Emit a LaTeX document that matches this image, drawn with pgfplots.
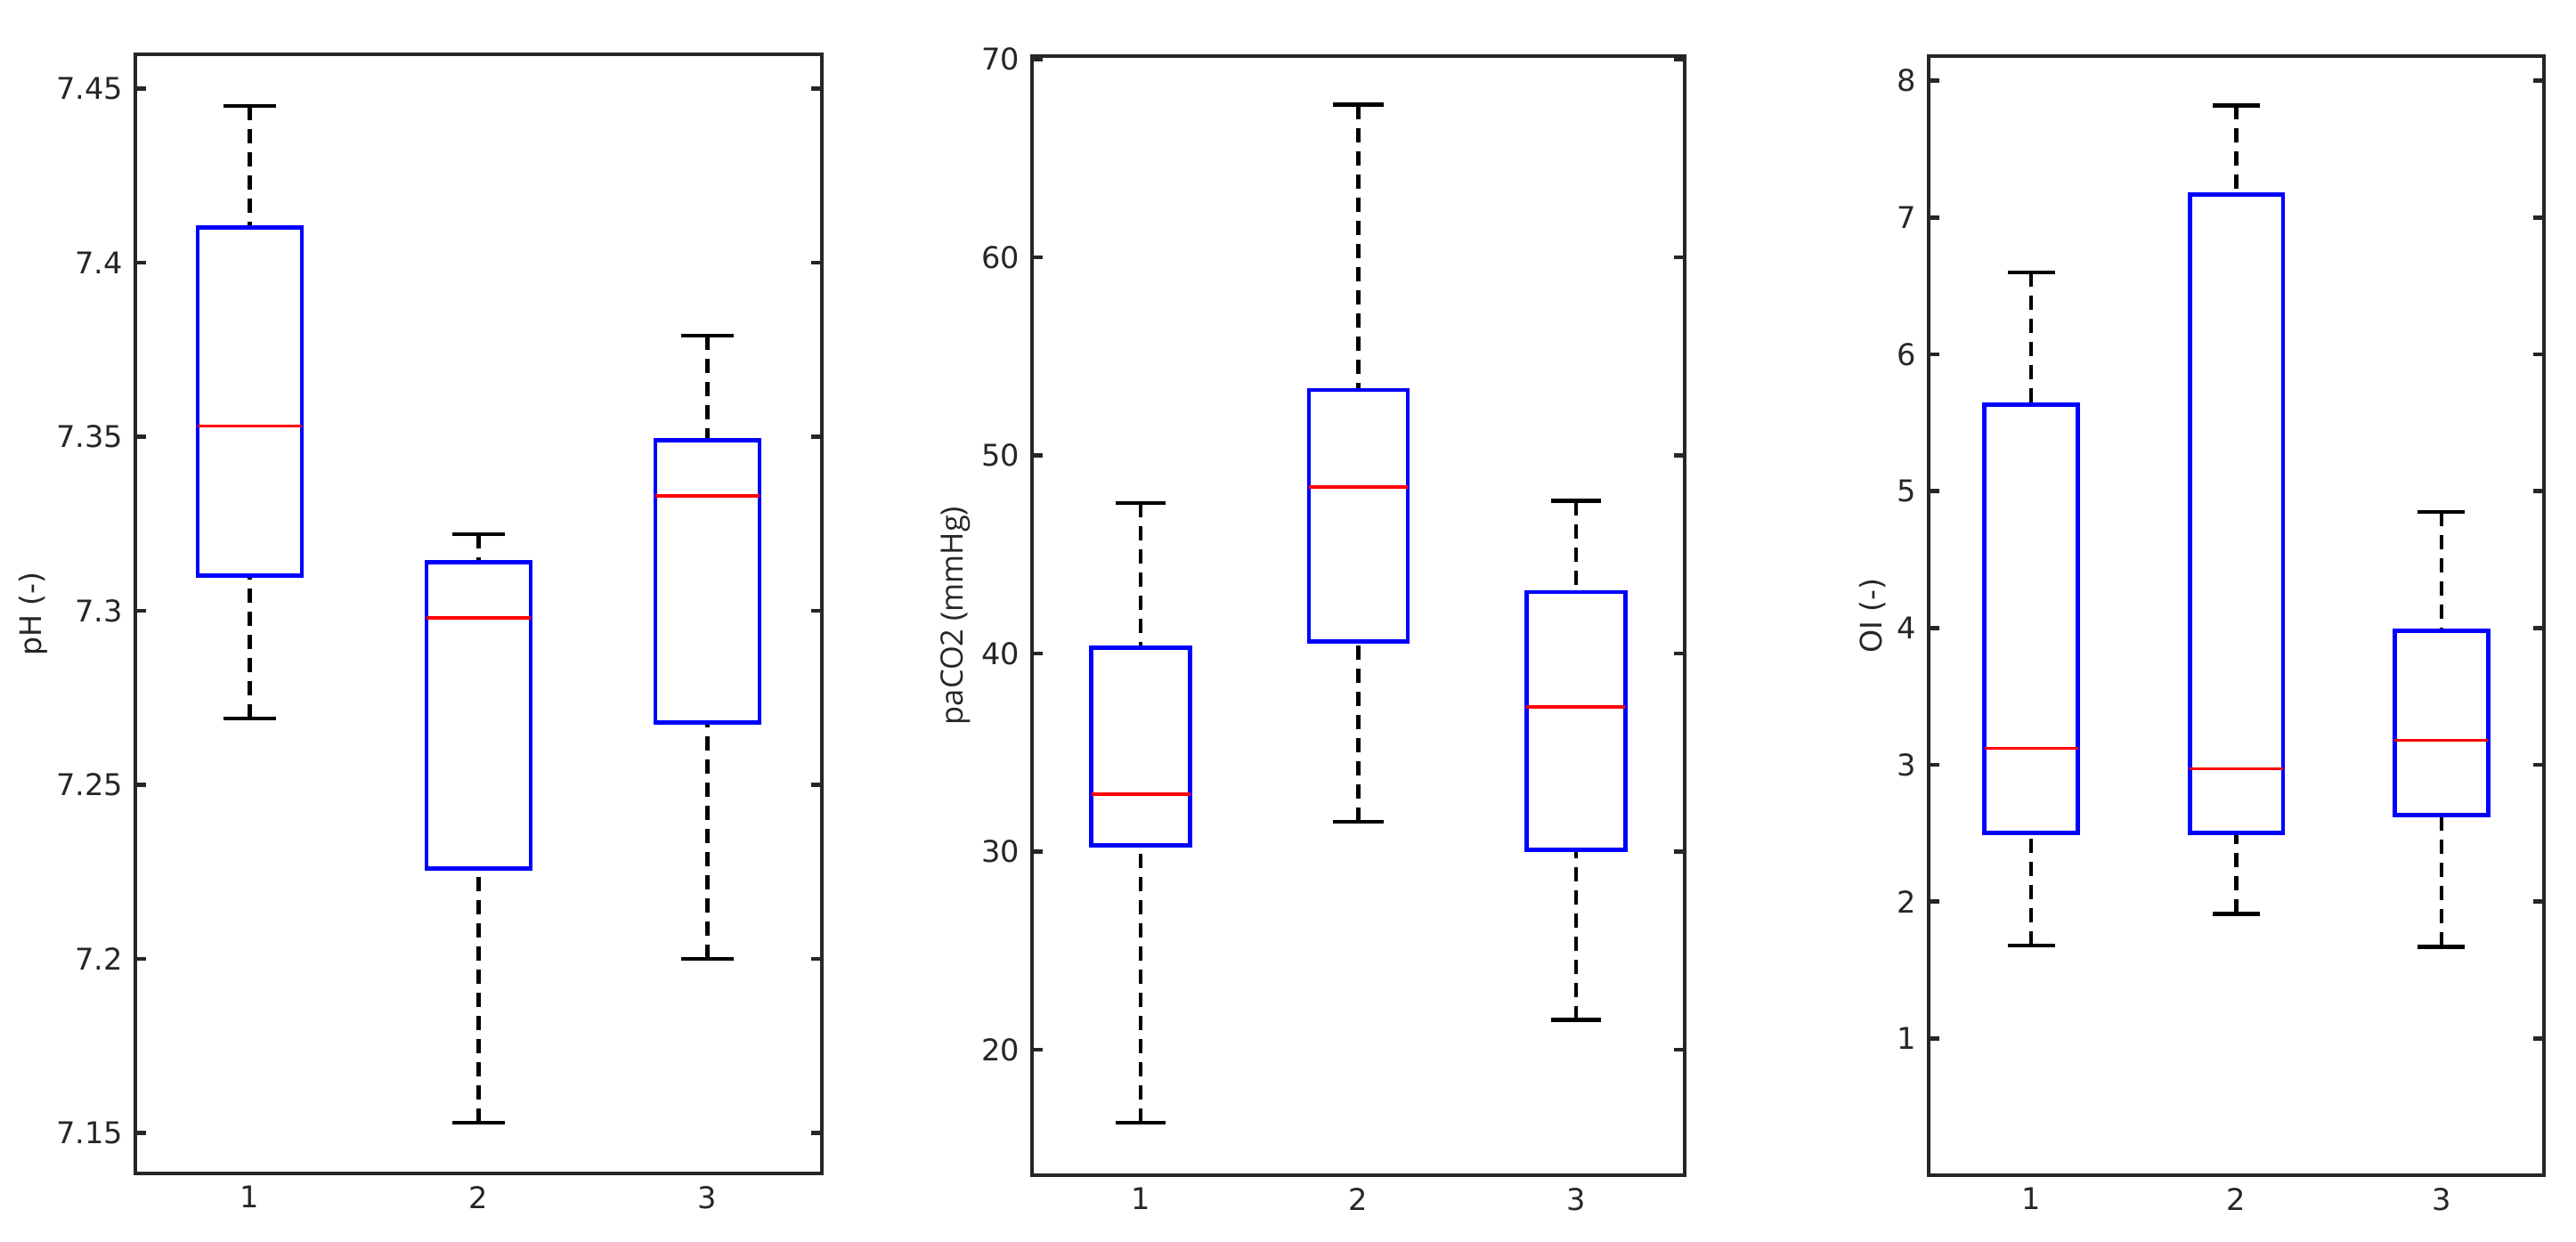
\documentclass[border=0pt]{standalone}
\usepackage{fontspec}
\setmainfont{DejaVu Sans}
\newfontfamily\opensans{Open Sans}
\usepackage{pgfplots}
\pgfplotsset{compat=1.18}
\usepgfplotslibrary{statistics}

\pgfplotsset{
  boxplot/draw/lower whisker/.code={%
    \draw[black, line width=1.1pt, dash pattern=on 4pt off 2.5pt]
      (boxplot box cs:\pgfplotsboxplotvalue{lower whisker},0.5) --
      (boxplot box cs:\pgfplotsboxplotvalue{lower quartile},0.5);
    \draw[black, line width=1.1pt]
      (boxplot whisker cs:\pgfplotsboxplotvalue{lower whisker},0) --
      (boxplot whisker cs:\pgfplotsboxplotvalue{lower whisker},1);
  },
  boxplot/draw/upper whisker/.code={%
    \draw[black, line width=1.1pt, dash pattern=on 4pt off 2.5pt]
      (boxplot box cs:\pgfplotsboxplotvalue{upper whisker},0.5) --
      (boxplot box cs:\pgfplotsboxplotvalue{upper quartile},0.5);
    \draw[black, line width=1.1pt]
      (boxplot whisker cs:\pgfplotsboxplotvalue{upper whisker},0) --
      (boxplot whisker cs:\pgfplotsboxplotvalue{upper whisker},1);
  },
  boxplot/every box/.style={draw=blue, line width=1.2pt},
  boxplot/every median/.style={draw=red, line width=0.9pt},
  boxplot/box extend=0.455,
  boxplot/whisker extend=0.23,
  boxplot/draw direction=y,
  common/.style={
    scale only axis,
    height=314.25pt,
    anchor=south west,
    xmin=0.5, xmax=3.5,
    xtick={1,2,3},
    xtick style={draw=none},
    minor tick num=0,
    tick align=inside,
    major tick length=3pt,
    axis line style={line width=1.2pt, black!85},
    every tick/.style={black!85, line width=1.1pt},
    tick label style={font=\fontsize{8.4}{10}\selectfont, text=black!85},
    /pgf/number format/assume math mode=true,
    ylabel style={font=\fontsize{8.3}{10}\selectfont, anchor=center, text=black!85},
  },
}

\begin{document}
\begin{tikzpicture}
\useasboundingbox (0,0) rectangle (723.25pt,348.5pt);

% ---------- Panel 1: pH ----------
\begin{axis}[common,
  at={(38pt,19pt)}, width=192.75pt,
  ymin=7.1384, ymax=7.4598,
  ytick={7.15,7.2,7.25,7.3,7.35,7.4,7.45},
  yticklabels={7.15,7.2,7.25,7.3,7.35,7.4,7.45},
  ylabel={pH (-)},
  ylabel style={at={(axis description cs:-0.149,0.5)}},
]
\addplot[blue, boxplot prepared={draw position=1, lower whisker=7.269, lower quartile=7.310, median=7.353, upper quartile=7.410, upper whisker=7.445}] coordinates {};
\addplot[blue, boxplot prepared={draw position=2, lower whisker=7.153, lower quartile=7.226, median=7.298, upper quartile=7.314, upper whisker=7.322}] coordinates {};
\addplot[blue, boxplot prepared={draw position=3, lower whisker=7.200, lower quartile=7.268, median=7.333, upper quartile=7.349, upper whisker=7.379}] coordinates {};
\end{axis}

% ---------- Panel 2: paCO2 ----------
\begin{axis}[common,
  at={(289.75pt,18.5pt)}, width=183.25pt,
  ymin=13.66, ymax=70.15,
  ytick={20,30,40,50,60,70},
  ylabel={\opensans paCO2 (mmHg)},
  ylabel style={at={(axis description cs:-0.117,0.5)}, font=\fontsize{8.6}{10}\selectfont},
]
\addplot[blue, boxplot prepared={draw position=1, lower whisker=16.3, lower quartile=30.3, median=32.9, upper quartile=40.3, upper whisker=47.6}] coordinates {};
\addplot[blue, boxplot prepared={draw position=2, lower whisker=31.5, lower quartile=40.6, median=48.4, upper quartile=53.3, upper whisker=67.7}] coordinates {};
\addplot[blue, boxplot prepared={draw position=3, lower whisker=21.5, lower quartile=30.1, median=37.3, upper quartile=43.1, upper whisker=47.7}] coordinates {};
\end{axis}

% ---------- Panel 3: OI ----------
\begin{axis}[common,
  at={(541.5pt,18.5pt)}, width=172.75pt,
  ymin=0, ymax=8.18,
  ytick={1,2,3,4,5,6,7,8},
  ylabel={OI (-)},
  ylabel style={at={(axis description cs:-0.091,0.5)}},
]
\addplot[blue, boxplot prepared={draw position=1, lower whisker=1.68, lower quartile=2.50, median=3.12, upper quartile=5.63, upper whisker=6.60}] coordinates {};
\addplot[blue, boxplot prepared={draw position=2, lower whisker=1.91, lower quartile=2.50, median=2.97, upper quartile=7.17, upper whisker=7.82}] coordinates {};
\addplot[blue, boxplot prepared={draw position=3, lower whisker=1.67, lower quartile=2.63, median=3.18, upper quartile=3.98, upper whisker=4.85}] coordinates {};
\end{axis}
\end{tikzpicture}
\end{document}
